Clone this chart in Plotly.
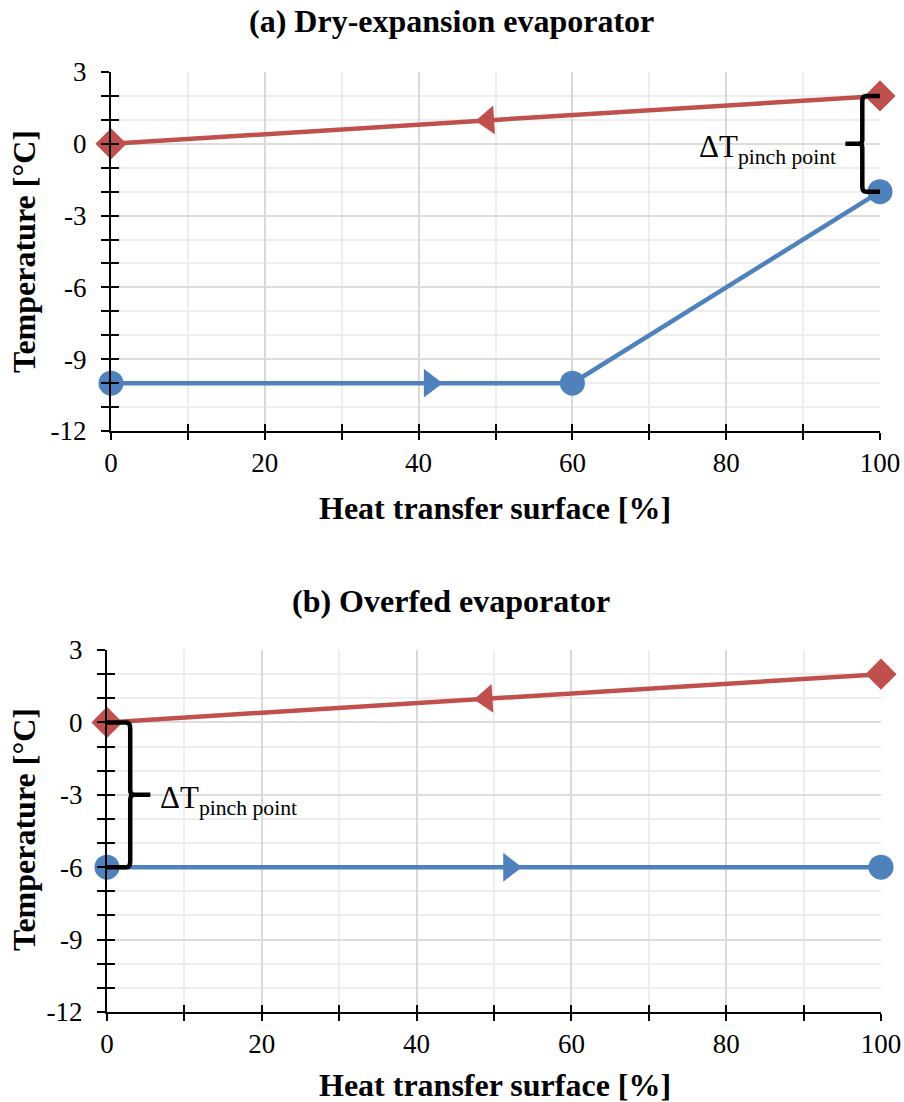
import plotly.graph_objects as go

# ---- data ----
surface_red = [0, 100]
temp_red = [0, 2]
red_arrow_x = [49]
red_arrow_y = [0.98]

surface_blue_a = [0, 60, 100]
temp_blue_a = [-10, -10, -2]
blue_arrow_a_x = [41.5]
blue_arrow_a_y = [-10]

surface_blue_b = [0, 100]
temp_blue_b = [-6, -6]
blue_arrow_b_x = [52]
blue_arrow_b_y = [-6]

x_ticks = [0, 20, 40, 60, 80, 100]
x_ticktext = ["0", "20", "40", "60", "80", "100"]
y_ticks = [3, 0, -3, -6, -9, -12]
y_ticktext = ["3", "0", "-3", "-6", "-9", "-12"]

RED = "#C0504D"
BLUE = "#4F81BD"
FONT = "Liberation Serif"

fig = go.Figure()

def add_panel(xa, ya, blue_x, blue_y, bax, bay):
    fig.add_trace(go.Scatter(x=surface_red, y=temp_red, mode="lines+markers",
                             line=dict(color=RED, width=4.5),
                             marker=dict(symbol="diamond", size=24, color=RED),
                             cliponaxis=False, showlegend=False, xaxis=xa, yaxis=ya))
    fig.add_trace(go.Scatter(x=red_arrow_x, y=red_arrow_y, mode="markers",
                             marker=dict(symbol="triangle-left", size=25, color=RED, angle=-3.5),
                             showlegend=False, xaxis=xa, yaxis=ya))
    fig.add_trace(go.Scatter(x=blue_x, y=blue_y, mode="lines+markers",
                             line=dict(color=BLUE, width=4.5),
                             marker=dict(symbol="circle", size=25, color=BLUE),
                             cliponaxis=False, showlegend=False, xaxis=xa, yaxis=ya))
    fig.add_trace(go.Scatter(x=bax, y=bay, mode="markers",
                             marker=dict(symbol="triangle-right", size=25, color=BLUE),
                             showlegend=False, xaxis=xa, yaxis=ya))

add_panel("x", "y", surface_blue_a, temp_blue_a, blue_arrow_a_x, blue_arrow_a_y)
add_panel("x2", "y2", surface_blue_b, temp_blue_b, blue_arrow_b_x, blue_arrow_b_y)

# dummy traces for overlay tick axes (inside ticks)
fig.add_trace(go.Scatter(x=[None], y=[None], xaxis="x3", yaxis="y3", showlegend=False, hoverinfo="skip"))
fig.add_trace(go.Scatter(x=[None], y=[None], xaxis="x4", yaxis="y4", showlegend=False, hoverinfo="skip"))

tickfont = dict(family=FONT, size=27, color="black")

def xaxis_main(domain, anchor):
    return dict(domain=domain, anchor=anchor, range=[0, 100], tickvals=x_ticks, ticktext=x_ticktext,
                showline=True, linecolor="black", linewidth=2, automargin=False,
                ticks="outside", ticklen=7, tickwidth=2, tickcolor="black",
                minor=dict(dtick=10, ticks="outside", ticklen=7, tickwidth=2, tickcolor="black",
                           showgrid=True, gridcolor="#EEEEEE", gridwidth=2),
                showgrid=True, gridcolor="#D9D9D9", gridwidth=2,
                tickfont=tickfont, ticklabelstandoff=0, zeroline=False, fixedrange=True)

def yaxis_main(domain, anchor):
    return dict(domain=domain, anchor=anchor, range=[-12, 3], tickvals=y_ticks, ticktext=y_ticktext,
                showline=True, linecolor="black", linewidth=2, automargin=False,
                ticks="outside", ticklen=8, tickwidth=2, tickcolor="black",
                minor=dict(dtick=1, tick0=0, ticks="outside", ticklen=8, tickwidth=2, tickcolor="black",
                           showgrid=True, gridcolor="#EEEEEE", gridwidth=2),
                showgrid=True, gridcolor="#DDDDDD", gridwidth=2,
                tickfont=tickfont, ticklabelstandoff=9, zeroline=False, fixedrange=True)

def xaxis_over(over, anchor):
    return dict(overlaying=over, anchor=anchor, range=[0, 100], tickvals=x_ticks,
                showline=False, showgrid=False, showticklabels=False, automargin=False,
                ticks="inside", ticklen=7, tickwidth=2, tickcolor="black",
                minor=dict(dtick=10, ticks="inside", ticklen=7, tickwidth=2, tickcolor="black", showgrid=False),
                zeroline=False, fixedrange=True)

def yaxis_over(over, anchor):
    return dict(overlaying=over, anchor=anchor, range=[-12, 3], tickvals=y_ticks,
                showline=False, showgrid=False, showticklabels=False, automargin=False,
                ticks="inside", ticklen=8, tickwidth=2, tickcolor="black",
                minor=dict(dtick=1, tick0=0, ticks="inside", ticklen=8, tickwidth=2, tickcolor="black", showgrid=False),
                zeroline=False, fixedrange=True)

W, H = 904, 1102
top_x = [111 / W, 880 / W]
top_y = [1 - 431 / H, 1 - 72 / H]
bot_x = [107 / W, 881 / W]
bot_y = [1 - 1012 / H, 1 - 650 / H]

fig.update_layout(
    width=W, height=H,
    margin=dict(l=0, r=0, t=0, b=0),
    paper_bgcolor="white", plot_bgcolor="white",
    xaxis=xaxis_main(top_x, "y"),
    yaxis=yaxis_main(top_y, "x"),
    xaxis2=xaxis_main(bot_x, "y2"),
    yaxis2=yaxis_main(bot_y, "x2"),
    xaxis3=xaxis_over("x", "y3"),
    yaxis3=yaxis_over("y", "x3"),
    xaxis4=xaxis_over("x2", "y4"),
    yaxis4=yaxis_over("y2", "x4"),
)

title_font = dict(family=FONT, size=32, color="black")
annots = [
    dict(text="<b>(a) Dry-expansion evaporator</b>", x=451 / W, y=1 - 21 / H),
    dict(text="<b>Heat transfer surface [%]</b>", x=495 / W, y=1 - 508 / H),
    dict(text="<b>(b) Overfed evaporator</b>", x=451 / W, y=1 - 601 / H),
    dict(text="<b>Heat transfer surface [%]</b>", x=495 / W, y=1 - 1085 / H),
    dict(text="<b>Temperature [°C]</b>", x=24 / W, y=1 - 252 / H, textangle=-90),
    dict(text="<b>Temperature [°C]</b>", x=24 / W, y=1 - 830 / H, textangle=-90),
]
for a in annots:
    fig.add_annotation(xref="paper", yref="paper", showarrow=False, font=title_font,
                       xanchor="center", yanchor="middle", **a)

# pinch point braces (derived from data ends)
dt_font = dict(family=FONT, size=31, color="black")
# top: between red end and blue end at x=100
xe = surface_red[-1]
yt, yb = temp_red[-1], temp_blue_a[-1]
ym = (yt + yb) / 2
xv = xe - 2.3
fig.add_shape(type="path", xref="x", yref="y",
              path=f"M {xe},{yt} L {xv+0.5},{yt} Q {xv},{yt} {xv},{yt-0.2} L {xv},{ym+0.15} Q {xv},{ym} {xv-0.5},{ym} L {xv-2.2},{ym} "
                   f"M {xv-0.5},{ym} Q {xv},{ym} {xv},{ym-0.15} L {xv},{yb+0.2} Q {xv},{yb} {xv+0.5},{yb} L {xe},{yb}",
              line=dict(color="black", width=4.5))
fig.add_annotation(xref="x", yref="y", x=xv - 3.2, y=ym - 0.2, text="ΔT<sub>pinch point</sub>",
                   showarrow=False, xanchor="right", yanchor="middle", font=dt_font)

# bottom: between red start and blue start at x=0
xs = surface_red[0]
yt2, yb2 = temp_red[0], temp_blue_b[0]
ym2 = (yt2 + yb2) / 2
xv2 = xs + 3.0
fig.add_shape(type="path", xref="x2", yref="y2",
              path=f"M {xs},{yt2} L {xv2-0.5},{yt2} Q {xv2},{yt2} {xv2},{yt2-0.25} L {xv2},{ym2+0.2} Q {xv2},{ym2} {xv2+0.5},{ym2} L {xv2+2.6},{ym2} "
                   f"M {xv2+0.5},{ym2} Q {xv2},{ym2} {xv2},{ym2-0.2} L {xv2},{yb2+0.25} Q {xv2},{yb2} {xv2-0.5},{yb2} L {xs},{yb2}",
              line=dict(color="black", width=4.5))
fig.add_annotation(xref="x2", yref="y2", x=xv2 + 3.6, y=ym2 - 0.2, text="ΔT<sub>pinch point</sub>",
                   showarrow=False, xanchor="left", yanchor="middle", font=dt_font)

fig.write_html("out.html")
